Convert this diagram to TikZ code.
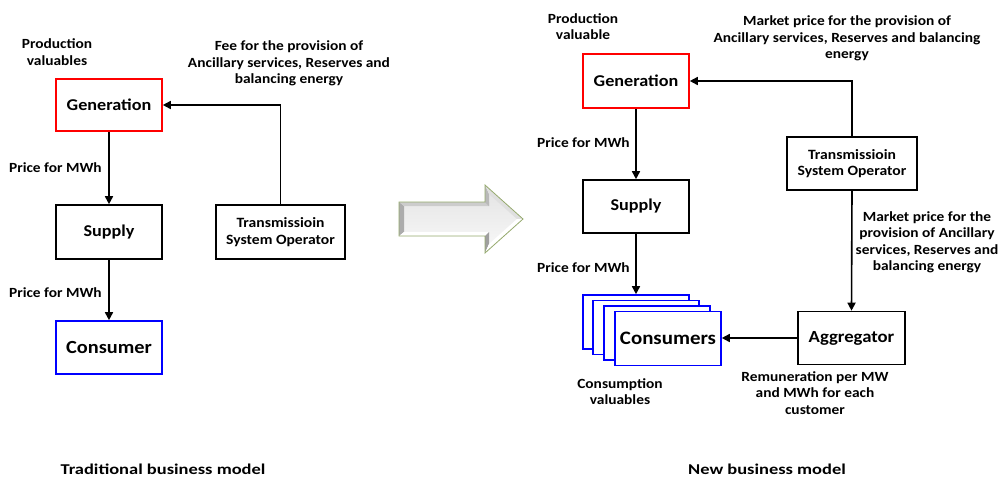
\documentclass[tikz,border=0pt]{standalone}
\usepackage{fontspec}
\setmainfont{Carlito}[FakeStretch=1.1]
\newfontfamily\capfont{Carlito}[FakeStretch=1.23]
\usetikzlibrary{arrows.meta}
\definecolor{arrowedge}{RGB}{150,170,110}
\begin{document}
\begin{tikzpicture}[x=1pt,y=-1pt,
  box/.style={draw=black,line width=1.6pt,fill=white,inner sep=0pt,anchor=center},
  redbox/.style={box,draw=red},
  bluebox/.style={box,draw=blue},
  lbl/.style={font=\bfseries\fontsize{14}{16.5}\selectfont,align=center,inner sep=0pt},
  conn/.style={line width=1.6pt,-{Triangle[width=8pt,length=8pt]}}]
\path[fill=white,use as bounding box] (0,0) rectangle (999,480);

% ---------- Left: traditional ----------
\node[redbox,minimum width=106pt,minimum height=52pt,font=\bfseries\fontsize{16.5}{18}\selectfont] (gen1) at (109,105) {Generation};
\node[box,minimum width=106pt,minimum height=54pt,font=\bfseries\fontsize{16.5}{18}\selectfont] (sup1) at (109,232) {Supply};
\node[bluebox,minimum width=106pt,minimum height=53pt,font=\bfseries\fontsize{18.5}{21}\selectfont] (con1) at (109,347.5) {Consumer};
\node[box,minimum width=129pt,minimum height=54pt,align=center,font=\bfseries\fontsize{14.2}{16.5}\selectfont] (tso1) at (280.5,232) {Transmissioin\\System Operator};

\draw[conn] (gen1.south) -- (sup1.north);
\draw[conn] (sup1.south) -- (con1.north);
\draw[conn] (tso1.north) |- (gen1.east);

\node[lbl] (pv1) at (57,52) {Production\\valuables};
\node[lbl] (fee1) at (289,63.5) {Fee for the provision of\\Ancillary services, Reserves and\\balancing energy};
\node[lbl,anchor=east] (pm1) at (102,168) {Price for MWh};
\node[lbl,anchor=east] (pm2) at (102,293) {Price for MWh};

% ---------- Big arrow ----------
\shade[top color=gray!22,bottom color=gray!5]
  (399,202) -- (485,202) -- (485,185) -- (523,219) -- (485,253) -- (485,236) -- (399,236) -- cycle;
\fill[gray!65] (399,202) -- (404,206) -- (404,232) -- (399,236) -- cycle;
\fill[gray!40] (399,202) -- (489,202) -- (489,206) -- (404,206)-- cycle;
\fill[gray!55] (485,185) -- (489,194) -- (489,206) -- (485,202) -- cycle;
\fill[white] (404,232) -- (489,232) -- (485,236) -- (399,236) -- cycle;
\fill[gray!75] (485,236) -- (489,232) -- (489,244) -- (485,253) -- cycle;
\fill[gray!25] (489,194) -- (517,219) -- (523,219) -- (485,185) -- cycle;
\fill[white] (489,244) -- (517,219) -- (523,219) -- (485,253) -- cycle;
\draw[arrowedge,line width=0.8pt]
  (399,202) -- (485,202) -- (485,185) -- (523,219) -- (485,253) -- (485,236) -- (399,236) -- cycle;

% ---------- Right: new ----------
\node[redbox,minimum width=106pt,minimum height=54pt,font=\bfseries\fontsize{16.5}{18}\selectfont] (gen2) at (636,81) {Generation};
\node[box,minimum width=130pt,minimum height=53pt,align=center,font=\bfseries\fontsize{14.2}{16.5}\selectfont] (tso2) at (852,163.5) {Transmissioin\\System Operator};
\node[box,minimum width=106pt,minimum height=53pt,font=\bfseries\fontsize{16.5}{18}\selectfont] (sup2) at (636,206.5) {Supply};
\node[bluebox,minimum width=106pt,minimum height=54pt] (c1) at (636,322) {};
\node[bluebox,minimum width=106pt,minimum height=54pt] (c2) at (646,327.5) {};
\node[bluebox,minimum width=106pt,minimum height=54pt] (c3) at (657,333) {};
\node[bluebox,minimum width=106pt,minimum height=54pt,font=\bfseries\fontsize{19}{21}\selectfont] (c4) at (668,338.5) {Consumers};
\node[box,minimum width=107pt,minimum height=53pt,font=\bfseries\fontsize{17}{19}\selectfont] (agg) at (851.5,338) {Aggregator};

\draw[conn] (tso2.north) |- (gen2.east);
\draw[conn] (gen2.south) -- (sup2.north);
\draw[conn] (sup2.south) -- (c1.north);
\draw[conn] (tso2.south) -- (agg.north);
\draw[conn] (agg.west) -- (c4.east |- agg.west);

\node[lbl] (pv2) at (583,26.5) {Production\\valuable};
\node[lbl] (mp1) at (847,38.5) {Market price for the provision of\\Ancillary services, Reserves and balancing\\energy};
\node[lbl,anchor=east] (pm3) at (630,143) {Price for MWh};
\node[lbl,anchor=east] (pm4) at (630,268) {Price for MWh};
\node[lbl] (mp2) at (927,242.5) {Market price for the\\provision of Ancillary\\services, Reserves and\\balancing energy};
\node[lbl] (rem) at (815,393) {Remuneration per MW\\and MWh for each\\customer};
\node[lbl] (cv) at (620,391.5) {Consumption\\valuables};

% ---------- Captions ----------
\node[font=\capfont\bfseries\fontsize{15}{17}\selectfont,inner sep=0pt] (t1) at (163,469) {Traditional business model};
\node[font=\capfont\bfseries\fontsize{15}{17}\selectfont,inner sep=0pt] (t2) at (767,469) {New business model};
\end{tikzpicture}
\end{document}
